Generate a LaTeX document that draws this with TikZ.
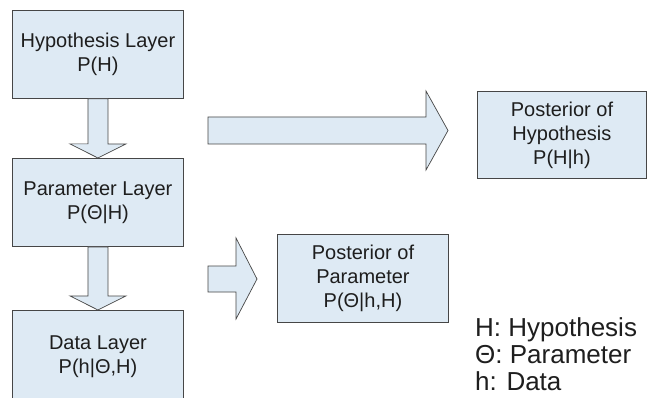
\documentclass[tikz,border=0pt]{standalone}
\usepackage{fontspec}
\setmainfont{Liberation Sans}
\usetikzlibrary{calc}
\definecolor{boxfill}{RGB}{222,234,244}
\definecolor{boxline}{RGB}{70,70,70}
\definecolor{txt}{RGB}{30,30,30}
\begin{document}
\begin{tikzpicture}[x=1pt,y=-1pt,
  layerbox/.style={draw=boxline,fill=boxfill,line width=0.9pt,anchor=north west,
    minimum width=171pt,minimum height=88pt,inner sep=0pt,align=center,
    text=txt,font=\fontsize{20}{24}\selectfont},
  blockarrow/.style={draw=boxline,fill=boxfill,line width=0.7pt,line join=miter},
  legend/.style={anchor=base west,inner sep=0pt,text=txt,font=\fontsize{26}{27}\selectfont}]
\useasboundingbox (0,0) rectangle (647,398);
\fill[white] (0,0) rectangle (647,398);
% boxes
\node[layerbox] (hyp) at (12,10) {Hypothesis Layer\\P(H)};
\node[layerbox] (par) at (12,158) {Parameter Layer\\P(Θ|H)};
\node[layerbox,minimum height=92pt] (dat) at (12,310) {\raisebox{1pt}{\begin{tabular}{@{}c@{}}Data Layer\\P(h|Θ,H)\end{tabular}}};
\node[layerbox,minimum width=169pt,minimum height=87pt] (posth) at (477,91) {Posterior of\\Hypothesis\\P(H|h)};
\node[layerbox] (postp) at (277,234) {Posterior of\\Parameter\\P(Θ|h,H)};
% down arrows
\draw[blockarrow] ($(hyp.south)+(-10,0)$) -- ++(0,45) -- ++(-18,0)
  -- (par.north) -- ++(28,-14) -- ++(-18,0) -- ($(hyp.south)+(10,0)$) -- cycle;
\draw[blockarrow] ($(par.south)+(-10,0)$) -- ++(0,49) -- ++(-18,0)
  -- (dat.north) -- ++(28,-14) -- ++(-18,0) -- ($(par.south)+(10,0)$) -- cycle;
% right arrows
\coordinate (bigtip) at (448,130.5);
\draw[blockarrow] (208,117) -- (426,117) -- (426,91) -- (bigtip)
  -- (426,170) -- (426,144) -- (208,144) -- cycle;
\coordinate (smalltip) at (257,279);
\draw[blockarrow] (208,266) -- (236,266) -- (236,238) -- (smalltip)
  -- (236,319) -- (236,292) -- (208,292) -- cycle;
% legend
\node[legend] (l1) at (475,336) {H: Hypothesis};
\node[legend] (l2) at (475,363) {Θ: Parameter};
\node[legend] (l3) at (475,390) {h: Data};
\end{tikzpicture}
\end{document}
